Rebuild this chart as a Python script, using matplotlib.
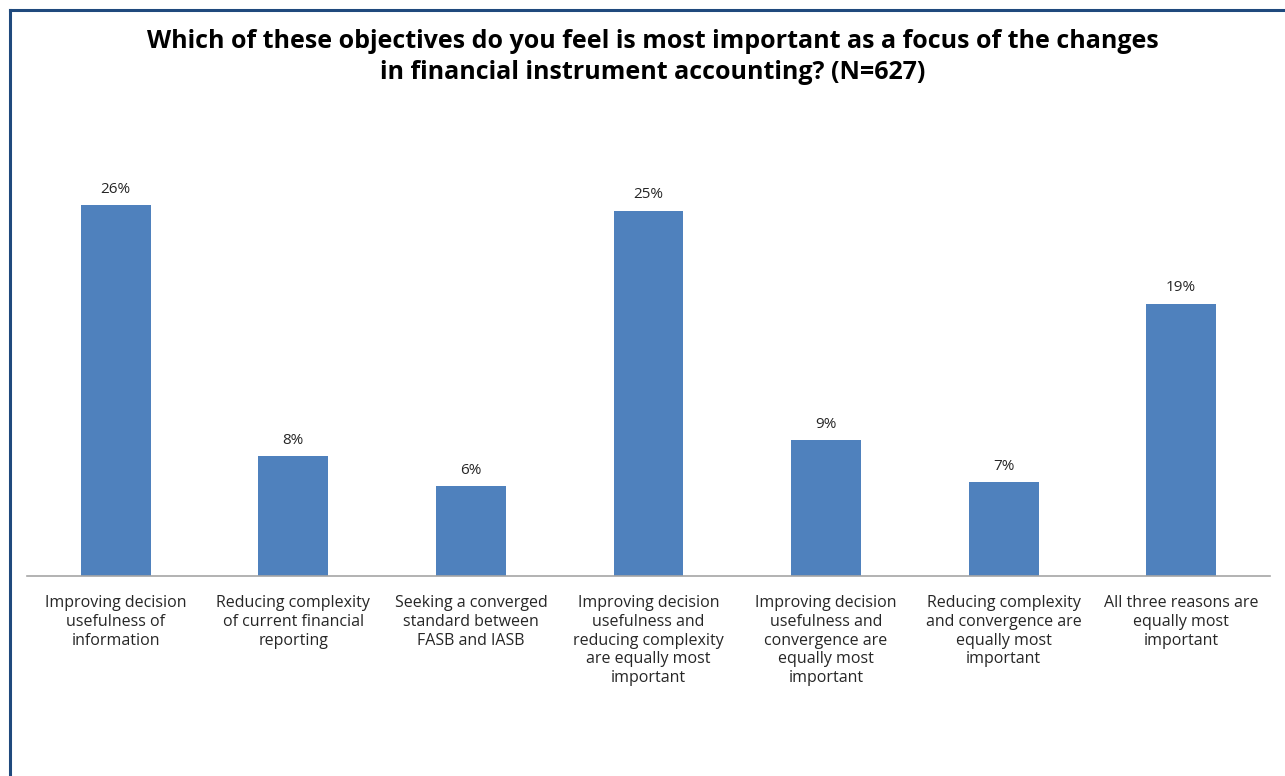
import matplotlib
matplotlib.use("Agg")
import matplotlib.pyplot as plt
from matplotlib.lines import Line2D

categories = [
    "Improving decision\nusefulness of\ninformation",
    "Reducing complexity\nof current financial\nreporting",
    "Seeking a converged\nstandard between\nFASB and IASB",
    "Improving decision\nusefulness and\nreducing complexity\nare equally most\nimportant",
    "Improving decision\nusefulness and\nconvergence are\nequally most\nimportant",
    "Reducing complexity\nand convergence are\nequally most\nimportant",
    "All three reasons are\nequally most\nimportant",
]
values = [26.0, 8.4, 6.3, 25.6, 9.5, 6.6, 19.1]
labels = ["26%", "8%", "6%", "25%", "9%", "7%", "19%"]
title = "Which of these objectives do you feel is most important as a focus of the changes\nin financial instrument accounting? (N=627)"

plt.rcParams['font.family'] = ['Open Sans', 'DejaVu Sans']

W, H = 1285, 776
fig = plt.figure(figsize=(W/100, H/100), dpi=100)
ax = fig.add_axes([27/W, (H-576)/H, (1270-27)/W, 428/H])

x = list(range(len(categories)))
ax.bar(x, values, width=0.394, color="#4F81BD", zorder=2)
ax.set_xlim(-0.5, len(categories)-0.5)
ax.set_ylim(0, 30)
for xi, v, lab in zip(x, values, labels):
    ax.annotate(lab, (xi, v), xytext=(0, 6), textcoords="offset points",
                ha="center", va="bottom", fontsize=11, color="#262626")

ax.set_xticks(x)
ax.set_xticklabels(categories, fontsize=11.5, color="#262626", linespacing=1.24, va="top")
ax.tick_params(axis="x", length=0, pad=13.5)
ax.set_yticks([])
for s in ["top", "right", "left"]:
    ax.spines[s].set_visible(False)
ax.spines["bottom"].set_color("#A6A6A6")
ax.spines["bottom"].set_linewidth(1.2)

fig.text(653/W, 1-57/H, title, ha="center", va="center", fontsize=18,
         fontweight="bold", color="black", linespacing=1.36)

# border lines (left and top)
fig.add_artist(Line2D([10/W, 10/W], [0, 1-10/H], color="#1F497D", lw=2.2, transform=fig.transFigure))
fig.add_artist(Line2D([10/W, 1], [1-10/H, 1-10/H], color="#1F497D", lw=2.2, transform=fig.transFigure))

fig.savefig("out.png", dpi=100)
